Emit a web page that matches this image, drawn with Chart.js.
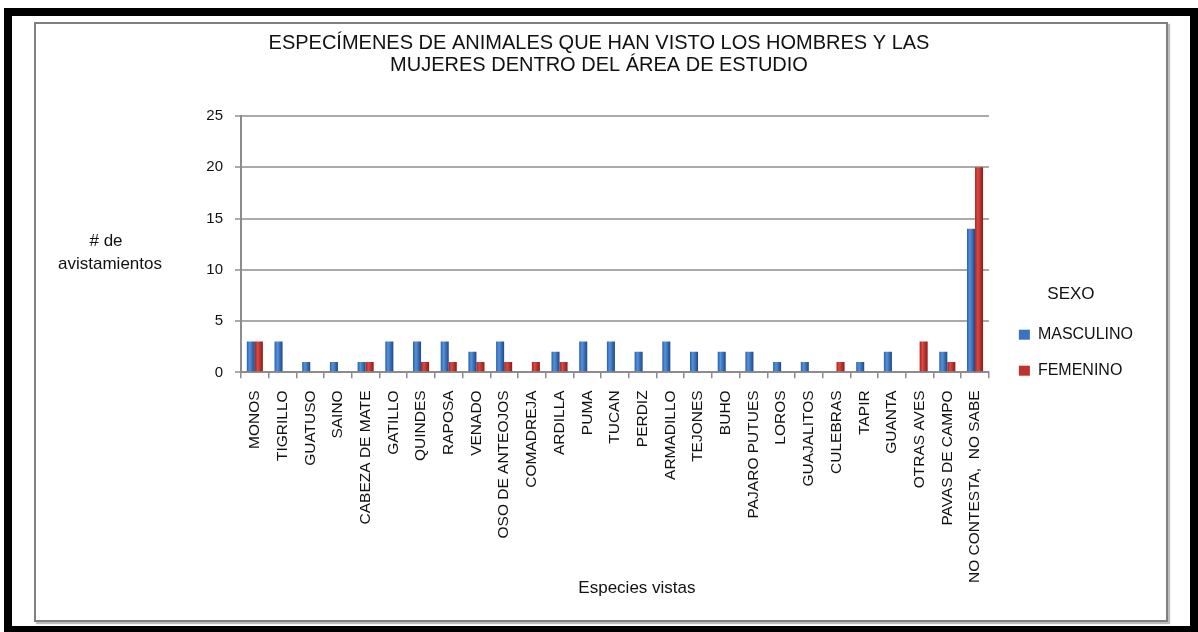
<!DOCTYPE html>
<html>
<head>
<meta charset="utf-8">
<script src="https://cdn.jsdelivr.net/npm/chart.js@4"></script>
<style>
  html, body { margin: 0; padding: 0; background: #fff; }
  body { width: 1198px; height: 632px; position: relative; overflow: hidden; }
  #frame { position: absolute; left: 4px; top: 8px; width: 1194px; height: 624px;
           box-sizing: border-box; border: solid #000; border-width: 8px 8px 6px 8px; }
  #panel { position: absolute; left: 34px; top: 22px; width: 1134px; height: 600px;
           box-sizing: border-box; border: 2px solid #7f7f7f; box-shadow: 2px 2px 1px #bdbdbd; }
  #wrap { position: absolute; left: 55px; top: 0; width: 1088px; height: 632px; }
</style>
</head>
<body>
<div id="frame"></div>
<div id="panel"></div>
<div id="wrap"><canvas id="chart" width="1088" height="632"></canvas></div>
<script>
// species seen, one entry per category on the x axis
const species = ['MONOS', 'TIGRILLO', 'GUATUSO', 'SAINO', 'CABEZA DE MATE', 'GATILLO', 'QUINDES',
  'RAPOSA', 'VENADO', 'OSO DE ANTEOJOS', 'COMADREJA', 'ARDILLA', 'PUMA', 'TUCAN', 'PERDIZ',
  'ARMADILLO', 'TEJONES', 'BUHO', 'PAJARO PUTUES', 'LOROS', 'GUAJALITOS', 'CULEBRAS', 'TAPIR',
  'GUANTA', 'OTRAS AVES', 'PAVAS DE CAMPO', 'NO CONTESTA,  NO SABE'];
const masculino = [3, 3, 1, 1, 1, 3, 3, 3, 2, 3, 0, 2, 3, 3, 2, 3, 2, 2, 2, 1, 1, 0, 1, 2, 0, 2, 14];
const femenino  = [3, 0, 0, 0, 1, 0, 1, 1, 1, 1, 1, 1, 0, 0, 0, 0, 0, 0, 0, 0, 0, 1, 0, 0, 3, 1, 20];
const seriesNames = ['MASCULINO', 'FEMENINO'];
const yMax = 25;
const yStep = 5;

const catPct = 0.58;
const legendColors = ['#3b73c0', '#c0322d'];
const textColor = '#111';

// cylinder-like shading for each bar, placed with the x scale
function barFill(stops, solid) {
  return function(c) {
    const chart = c.chart;
    const xs = chart.scales && chart.scales.x;
    if (c.type !== 'data' || !xs || !chart.chartArea) return solid;
    const w = xs.width / species.length * catPct / 2;
    const cx = xs.getPixelForValue(c.dataIndex) + (c.datasetIndex === 0 ? -w / 2 : w / 2);
    const g = chart.ctx.createLinearGradient(cx - w / 2, 0, cx + w / 2, 0);
    g.addColorStop(0, stops[0]);
    g.addColorStop(0.35, stops[1]);
    g.addColorStop(1, stops[2]);
    return g;
  };
}

// horizontal y title and x title placed like the original
const axisText = {
  id: 'axisText',
  afterDraw(chart) {
    const ctx = chart.ctx;
    const a = chart.chartArea;
    ctx.save();
    ctx.fillStyle = textColor;
    ctx.textAlign = 'center';
    ctx.textBaseline = 'middle';
    ctx.font = '17px "Liberation Sans", Arial, sans-serif';
    ctx.fillText('# de', a.left - 135, 241);
    ctx.fillText('avistamientos', a.left - 131, 264);
    ctx.fillText('Especies vistas', (a.left + a.right) / 2 + 22, 588);
    ctx.restore();
  }
};

const ctx = document.getElementById('chart').getContext('2d');
new Chart(ctx, {
  type: 'bar',
  data: {
    labels: species,
    datasets: [
      { label: seriesNames[0], data: masculino,
        backgroundColor: barFill(['#2b5fa8', '#5592dc', '#1d4788'], legendColors[0]) },
      { label: seriesNames[1], data: femenino,
        backgroundColor: barFill(['#a8231f', '#db4a42', '#8a1a17'], legendColors[1]) }
    ]
  },
  plugins: [axisText],
  options: {
    responsive: false,
    animation: false,
    layout: { padding: { left: 0, right: 0, top: 0, bottom: 37 } },
    datasets: { bar: { categoryPercentage: catPct, barPercentage: 1.0, borderWidth: 0 } },
    scales: {
      x: {
        grid: { display: true, drawOnChartArea: false, drawTicks: true, tickLength: 6,
                offset: true, color: '#8c8c8c', lineWidth: 1.5 },
        border: { display: true, color: '#8c8c8c', width: 2 },
        ticks: { autoSkip: false, minRotation: 90, maxRotation: 90, padding: 12,
                 color: textColor, font: { family: '"Liberation Sans", Arial, sans-serif', size: 15.5 } }
      },
      y: {
        min: 0, max: yMax,
        afterFit(s) { s.width = 186; },
        grid: { color: '#aaaaaa', lineWidth: 2, tickLength: 6 },
        border: { display: true, color: '#8c8c8c', width: 2 },
        ticks: { stepSize: yStep, padding: 12, color: textColor,
                 font: { family: '"Liberation Sans", Arial, sans-serif', size: 15 } }
      },
      pad: {
        type: 'linear', position: 'right', display: true,
        afterFit(s) { s.width = 10; },
        grid: { display: false, drawTicks: false },
        border: { display: false },
        ticks: { display: false }
      }
    },
    plugins: {
      title: {
        display: true,
        text: ['ESPECÍMENES DE ANIMALES QUE HAN VISTO LOS HOMBRES Y LAS',
               'MUJERES DENTRO DEL ÁREA DE ESTUDIO'],
        color: textColor,
        font: { family: '"Liberation Sans", Arial, sans-serif',
                size: 20, weight: 'normal', lineHeight: 1.1 },
        padding: { top: 32, bottom: 40 }
      },
      legend: {
        position: 'right',
        align: 'center',
        title: { display: true, text: 'SEXO', color: textColor,
                 font: { family: '"Liberation Sans", Arial, sans-serif', size: 17 },
                 padding: { top: 90, bottom: 0 } },
        labels: {
          boxWidth: 11, boxHeight: 10, padding: 20, color: textColor,
          font: { family: '"Liberation Sans", Arial, sans-serif', size: 16 },
          generateLabels(chart) {
            return Chart.defaults.plugins.legend.labels.generateLabels(chart).map((it, i) =>
              Object.assign(it, { fillStyle: legendColors[i], strokeStyle: legendColors[i], lineWidth: 0 }));
          }
        }
      },
      tooltip: { enabled: false }
    }
  }
});
</script>
</body>
</html>
